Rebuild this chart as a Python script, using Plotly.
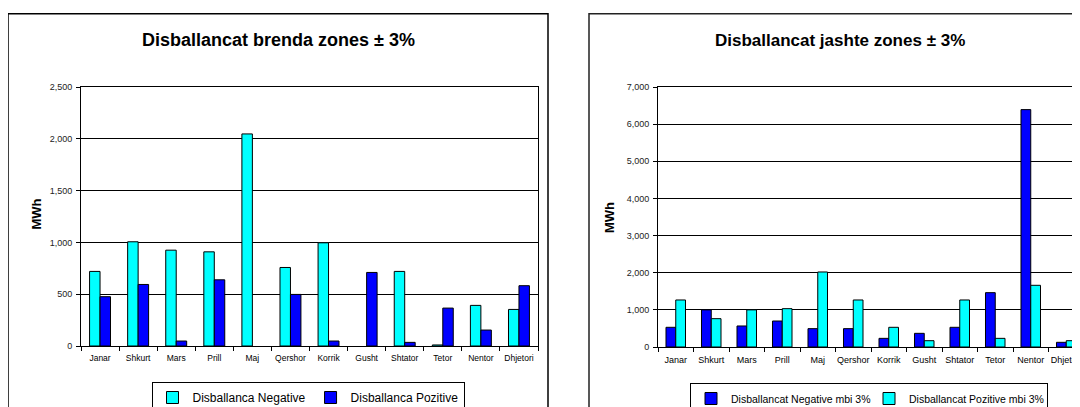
import plotly.graph_objects as go

# ---------------- data ----------------
months = ["Janar", "Shkurt", "Mars", "Prill", "Maj", "Qershor", "Korrik",
          "Gusht", "Shtator", "Tetor", "Nentor", "Dhjetori"]

# Chart 1: Disballancat brenda zones ± 3%  (None = no bar drawn)
brenda_negative = [720, 1006, 925, 909, 2047, 758, 996, None, 720, 10, 392, 353]
brenda_pozitive = [476, 594, 48, 639, None, 498, 48, 710, 35, 366, 154, 582]

# Chart 2: Disballancat jashte zones ± 3%
jashte_negative = [530, 1000, 566, 700, 494, 494, 233, 368, 530, 1463, 6391, 126]
jashte_pozitive = [1266, 763, 1000, 1032, 2020, 1266, 530, 170, 1266, 233, 1661, 170]

left_ticks = [0, 500, 1000, 1500, 2000, 2500]
right_ticks = [0, 1000, 2000, 3000, 4000, 5000, 6000, 7000]

# ---------------- layout helpers ----------------
# The page body has an 8px margin, so the figure is offset by 8px in the window.
OFF = 8
W, H = 1080 - OFF, 407 - OFF
def fx(px):
    return (px - OFF) / W
def fy(py):
    return 1 - (py - OFF) / H

CYAN = "#00FFFF"
BLUE = "#0000FF"
FONT = "Arial, Liberation Sans, sans-serif"

fig = go.Figure()

fig.add_trace(go.Bar(x=months, y=brenda_negative, name="Disballanca Negative",
                     marker=dict(color=CYAN, line=dict(color="black", width=1)),
                     xaxis="x", yaxis="y", legend="legend"))
fig.add_trace(go.Bar(x=months, y=brenda_pozitive, name="Disballanca Pozitive",
                     marker=dict(color=BLUE, line=dict(color="black", width=1)),
                     xaxis="x", yaxis="y", legend="legend"))

fig.add_trace(go.Bar(x=months, y=jashte_negative, name="Disballancat Negative mbi 3%",
                     marker=dict(color=BLUE, line=dict(color="black", width=1)),
                     xaxis="x2", yaxis="y2", legend="legend2"))
fig.add_trace(go.Bar(x=months, y=jashte_pozitive, name="Disballancat Pozitive mbi 3%",
                     marker=dict(color=CYAN, line=dict(color="black", width=1)),
                     xaxis="x2", yaxis="y2", legend="legend2"))

axis_common = dict(showline=True, mirror=True, linecolor="black", linewidth=1,
                   ticks="outside", ticklen=4, tickcolor="black", tickwidth=1,
                   automargin=False)

right_cat_px = 35.5
right_plot_w = 1080 - 658

fig.update_layout(
    width=W, height=H,
    margin=dict(l=0, r=0, t=0, b=0, autoexpand=False),
    paper_bgcolor="white", plot_bgcolor="white",
    font=dict(family=FONT, color="black"),
    barmode="group", bargap=0.45, bargroupgap=0,
    xaxis=dict(domain=[fx(81), fx(538)], anchor="y", type="category",
               tickson="boundaries", showgrid=False, tickangle=0,
               ticklabelstandoff=4,
               tickfont=dict(size=8.5, family=FONT), **axis_common),
    yaxis=dict(domain=[fy(346), fy(87)], anchor="x", range=[0, 2500],
               tickvals=left_ticks, tickformat=",", showgrid=True,
               gridcolor="black", gridwidth=1, zeroline=False,
               ticklabelstandoff=2,
               tickfont=dict(size=9, family=FONT, color="#222"), **axis_common),
    xaxis2=dict(domain=[fx(658), 1.0], anchor="y2", type="category",
                range=[-0.5, -0.5 + right_plot_w / right_cat_px],
                tickson="boundaries", showgrid=False, tickangle=0,
                ticklabeloverflow="allow", ticklabelstandoff=4,
                tickfont=dict(size=9, family=FONT), **axis_common),
    yaxis2=dict(domain=[fy(347), fy(87)], anchor="x2", range=[0, 7000],
                tickvals=right_ticks, tickformat=",", showgrid=True,
                gridcolor="black", gridwidth=1, zeroline=False,
                ticklabelstandoff=2,
                tickfont=dict(size=9, family=FONT, color="#222"), **axis_common),
    legend=dict(orientation="h", x=fx(308), xanchor="center", y=fy(382), yanchor="top",
                bordercolor="black", borderwidth=1, bgcolor="white",
                font=dict(size=12, family=FONT), itemwidth=30,
                itemclick=False, itemdoubleclick=False),
    legend2=dict(orientation="h", x=fx(869), xanchor="center", y=fy(383), yanchor="top",
                 bordercolor="black", borderwidth=1, bgcolor="white",
                 font=dict(size=10.5, family=FONT), itemwidth=30,
                 entrywidth=133, entrywidthmode="pixels",
                 itemclick=False, itemdoubleclick=False),
    shapes=[
        dict(type="rect", xref="paper", yref="paper",
             x0=fx(8), x1=fx(548), y0=-0.2, y1=fy(13.7),
             line=dict(color="black", width=1.5), fillcolor="rgba(0,0,0,0)", layer="below"),
        dict(type="rect", xref="paper", yref="paper",
             x0=fx(589), x1=1.2, y0=-0.2, y1=fy(13.7),
             line=dict(color="#222", width=1.5), fillcolor="rgba(0,0,0,0)", layer="below"),
    ],
    annotations=[
        dict(text="<b>Disballancat brenda zones ± 3%</b>", xref="paper", yref="paper",
             x=fx(278), y=fy(40.5), xanchor="center", yanchor="middle", showarrow=False,
             font=dict(size=18, family=FONT, color="black")),
        dict(text="<b>Disballancat jashte zones ± 3%</b>", xref="paper", yref="paper",
             x=fx(840), y=fy(40.5), xanchor="center", yanchor="middle", showarrow=False,
             font=dict(size=17, family=FONT, color="black")),
        dict(text="<b>MWh</b>", xref="paper", yref="paper", textangle=-90,
             x=fx(35.5), y=fy(214), xanchor="center", yanchor="middle", showarrow=False,
             font=dict(size=13, family=FONT, color="black")),
        dict(text="<b>MWh</b>", xref="paper", yref="paper", textangle=-90,
             x=fx(609), y=fy(218), xanchor="center", yanchor="middle", showarrow=False,
             font=dict(size=13, family=FONT, color="black")),
    ],
)

fig.write_html("out.html")
